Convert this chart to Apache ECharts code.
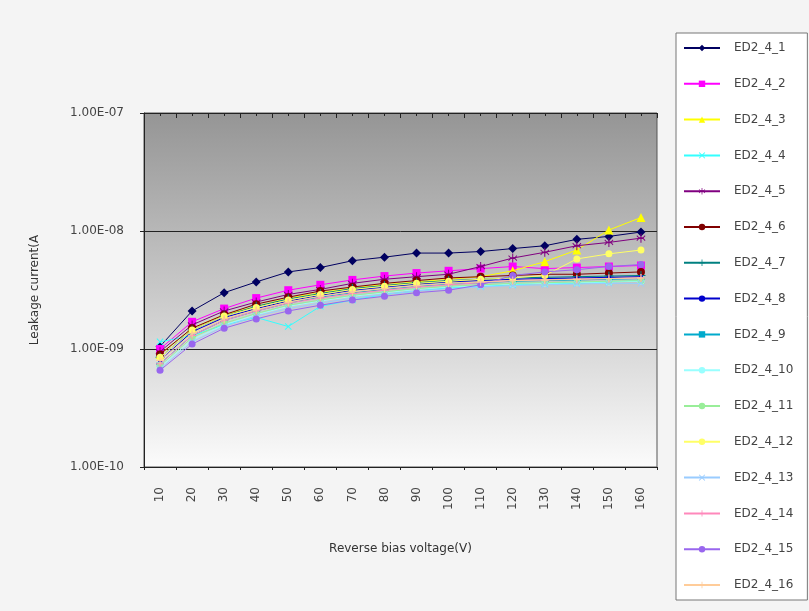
<!DOCTYPE html>
<html>
<head>
<meta charset="utf-8">
<script src="https://cdn.jsdelivr.net/npm/echarts@6/dist/echarts.min.js"></script>
<style>html,body{margin:0;padding:0;background:#fff}#c{width:809px;height:611px}</style>
</head>
<body>
<div id="c"></div>
<script>
// ---- data ----
const categories = ['10','20','30','40','50','60','70','80','90','100','110','120','130','140','150','160'];
const yTickLabels = ['1.00E-10','1.00E-09','1.00E-08','1.00E-07'];
const seriesNames = ['ED2_4_1','ED2_4_2','ED2_4_3','ED2_4_4','ED2_4_5','ED2_4_6','ED2_4_7','ED2_4_8','ED2_4_9','ED2_4_10','ED2_4_11','ED2_4_12','ED2_4_13','ED2_4_14','ED2_4_15','ED2_4_16'];

const ED2_4_1  = [1.05e-9,2.1e-9,3.0e-9,3.7e-9,4.5e-9,4.9e-9,5.6e-9,6.0e-9,6.5e-9,6.5e-9,6.7e-9,7.1e-9,7.5e-9,8.5e-9,9.0e-9,9.8e-9];
const ED2_4_2  = [1.0e-9,1.7e-9,2.2e-9,2.7e-9,3.15e-9,3.5e-9,3.85e-9,4.15e-9,4.4e-9,4.6e-9,4.8e-9,5.0e-9,4.8e-9,4.9e-9,5.0e-9,5.1e-9];
const ED2_4_3  = [9.0e-10,1.5e-9,1.95e-9,2.3e-9,2.7e-9,3.0e-9,3.3e-9,3.5e-9,3.7e-9,3.9e-9,4.1e-9,4.6e-9,5.5e-9,6.9e-9,1.02e-8,1.3e-8];
const ED2_4_4  = [1.15e-9,1.3e-9,1.6e-9,1.85e-9,1.55e-9,2.3e-9,2.6e-9,2.9e-9,3.1e-9,3.3e-9,3.4e-9,3.5e-9,3.6e-9,3.6e-9,3.7e-9,3.8e-9];
const ED2_4_5  = [9.5e-10,1.6e-9,2.1e-9,2.5e-9,2.9e-9,3.2e-9,3.6e-9,3.9e-9,4.1e-9,4.3e-9,5.0e-9,5.9e-9,6.6e-9,7.5e-9,8.0e-9,8.7e-9];
const ED2_4_6  = [9.0e-10,1.5e-9,1.95e-9,2.4e-9,2.75e-9,3.1e-9,3.35e-9,3.6e-9,3.8e-9,4.0e-9,4.1e-9,4.2e-9,4.3e-9,4.3e-9,4.4e-9,4.5e-9];
const ED2_4_7  = [8.5e-10,1.45e-9,1.9e-9,2.3e-9,2.65e-9,2.95e-9,3.25e-9,3.45e-9,3.65e-9,3.8e-9,3.9e-9,4.0e-9,4.05e-9,4.1e-9,4.15e-9,4.2e-9];
const ED2_4_8  = [8.0e-10,1.4e-9,1.85e-9,2.2e-9,2.55e-9,2.85e-9,3.15e-9,3.35e-9,3.55e-9,3.7e-9,3.8e-9,3.9e-9,3.95e-9,4.0e-9,4.05e-9,4.1e-9];
const ED2_4_9  = [7.5e-10,1.3e-9,1.75e-9,2.1e-9,2.45e-9,2.75e-9,3.0e-9,3.2e-9,3.4e-9,3.55e-9,3.65e-9,3.75e-9,3.8e-9,3.85e-9,3.9e-9,3.95e-9];
const ED2_4_10 = [7.0e-10,1.2e-9,1.6e-9,1.95e-9,2.3e-9,2.55e-9,2.8e-9,3.0e-9,3.2e-9,3.35e-9,3.45e-9,3.55e-9,3.6e-9,3.65e-9,3.7e-9,3.75e-9];
const ED2_4_11 = [7.2e-10,1.25e-9,1.65e-9,2.0e-9,2.35e-9,2.6e-9,2.85e-9,3.05e-9,3.25e-9,3.4e-9,3.5e-9,3.6e-9,3.65e-9,3.7e-9,3.75e-9,3.8e-9];
const ED2_4_12 = [8.5e-10,1.45e-9,1.9e-9,2.25e-9,2.6e-9,2.9e-9,3.2e-9,3.4e-9,3.6e-9,3.75e-9,3.9e-9,4.0e-9,4.2e-9,5.8e-9,6.4e-9,6.9e-9];
const ED2_4_13 = [6.8e-10,1.15e-9,1.55e-9,1.9e-9,2.2e-9,2.45e-9,2.7e-9,2.9e-9,3.1e-9,3.25e-9,3.35e-9,3.45e-9,3.5e-9,3.55e-9,3.6e-9,3.6e-9];
const ED2_4_14 = [7.5e-10,1.3e-9,1.75e-9,2.1e-9,2.45e-9,2.7e-9,2.95e-9,3.15e-9,3.35e-9,3.5e-9,3.65e-9,3.8e-9,3.85e-9,3.9e-9,3.95e-9,4.0e-9];
const ED2_4_15 = [6.6e-10,1.1e-9,1.5e-9,1.8e-9,2.1e-9,2.35e-9,2.6e-9,2.8e-9,3.0e-9,3.15e-9,3.5e-9,4.2e-9,4.5e-9,4.7e-9,5.0e-9,5.2e-9];
const ED2_4_16 = [8.0e-10,1.35e-9,1.8e-9,2.15e-9,2.5e-9,2.8e-9,3.05e-9,3.25e-9,3.45e-9,3.6e-9,3.7e-9,3.8e-9,3.85e-9,3.9e-9,3.95e-9,4.0e-9];

const seriesValues = [ED2_4_1,ED2_4_2,ED2_4_3,ED2_4_4,ED2_4_5,ED2_4_6,ED2_4_7,ED2_4_8,ED2_4_9,ED2_4_10,ED2_4_11,ED2_4_12,ED2_4_13,ED2_4_14,ED2_4_15,ED2_4_16];

// ---- styles ----
const colors = ['#000060','#ff00ff','#ffff00','#33ffff','#800080','#800000','#008080','#0000cc','#00aacc','#99ffff','#99ee99','#ffff66','#99ccff','#ff88bb','#9966ee','#ffcc99'];
const X = 'path://M1,0L5,4L9,0L10,1L6,5L10,9L9,10L5,6L1,10L0,9L4,5L0,1Z';
const PLUS = 'path://M4.4,0h1.2v4.4h4.4v1.2h-4.4v4.4h-1.2v-4.4h-4.4v-1.2h4.4z';
const STAR = 'path://M4.4,0h1.2v4h1.8l2.2-2.2l0.8,0.8l-2.2,2.2v0.4l2.2,2.2l-0.8,0.8l-2.2,-2.2h-1.8v4h-1.2v-4h-1.8l-2.2,2.2l-0.8,-0.8l2.2,-2.2v-0.4l-2.2,-2.2l0.8,-0.8l2.2,2.2h1.8z';
const DASH = 'path://M0,0h10v2h-10z';
const symbols = ['diamond','rect','triangle',X,STAR,'circle',PLUS,'circle',DASH,'circle','circle','circle',X,PLUS,'circle',PLUS];
const sizes = [9,8,9,7,9,8,9,4,[8,2],7,7,7,7,8,7,8];

const chart = echarts.init(document.getElementById('c'), null, {renderer:'canvas'});
const font = 'DejaVu Sans';

const series = seriesNames.map((n,i)=>({
  name:n, type:'line', xAxisIndex:0, yAxisIndex:0,
  data: seriesValues[i],
  symbol: symbols[i], symbolSize: sizes[i], showSymbol:true,
  lineStyle:{color:colors[i], width:1},
  itemStyle:{color:colors[i]},
  emphasis:{disabled:true},
  z: 3 + i
}));

chart.setOption({
  backgroundColor:'#f4f4f4',
  animation:false,
  textStyle:{fontFamily:font},
  grid:{left:144, right:152, top:113, bottom:144, show:true, borderColor:'#555', borderWidth:1,
    backgroundColor:{type:'linear',x:0,y:0,x2:0,y2:1,colorStops:[{offset:0,color:'#959595'},{offset:1,color:'#fbfbfb'}]}},
  legend:{
    orient:'vertical', left:676, top:33,
    padding:[8,14,8,7],
    backgroundColor:'#ffffff', borderColor:'#777', borderWidth:1,
    itemWidth:36, itemHeight:8, itemGap:21.8,
    textStyle:{fontFamily:font, fontSize:12, color:'#444', lineHeight:14, padding:[0,0,0,9]},
    data: seriesNames
  },
  xAxis:[{
    type:'category', data:categories, boundaryGap:true, position:'bottom',
    name:'Reverse bias voltage(V)', nameLocation:'middle', nameGap:76,
    nameTextStyle:{fontFamily:font, fontSize:12, color:'#333'},
    axisLine:{lineStyle:{color:'#222'}},
    axisTick:{show:true, length:3, lineStyle:{color:'#222'}},
    axisLabel:{rotate:90, margin:20, fontFamily:font, fontSize:12, color:'#444', interval:0},
    splitLine:{show:false}
  },{
    type:'value', position:'top', min:0, max:16, interval:1,
    axisLine:{show:true, lineStyle:{color:'#222'}},
    axisTick:{show:true, inside:true, length:5, lineStyle:{color:'#222'}},
    minorTick:{show:true, splitNumber:2, length:3, lineStyle:{color:'#222'}},
    axisLabel:{show:false}, splitLine:{show:false}
  }],
  yAxis:{
    type:'log', logBase:10, min:1e-10, max:1e-7,
    name:'Leakage current(A', nameLocation:'middle', nameGap:103, nameRotate:90,
    nameTextStyle:{fontFamily:font, fontSize:12, color:'#333'},
    axisLine:{show:true, lineStyle:{color:'#222'}},
    axisTick:{show:true, length:4, lineStyle:{color:'#222'}},
    minorTick:{show:false},
    axisLabel:{margin:20, fontFamily:font, fontSize:12, color:'#444',
      formatter:(v)=>yTickLabels[Math.round(Math.log10(v))+10] || ''},
    splitLine:{show:true, lineStyle:{color:'#222', width:1}}
  },
  series: series
});
</script>
</body>
</html>
